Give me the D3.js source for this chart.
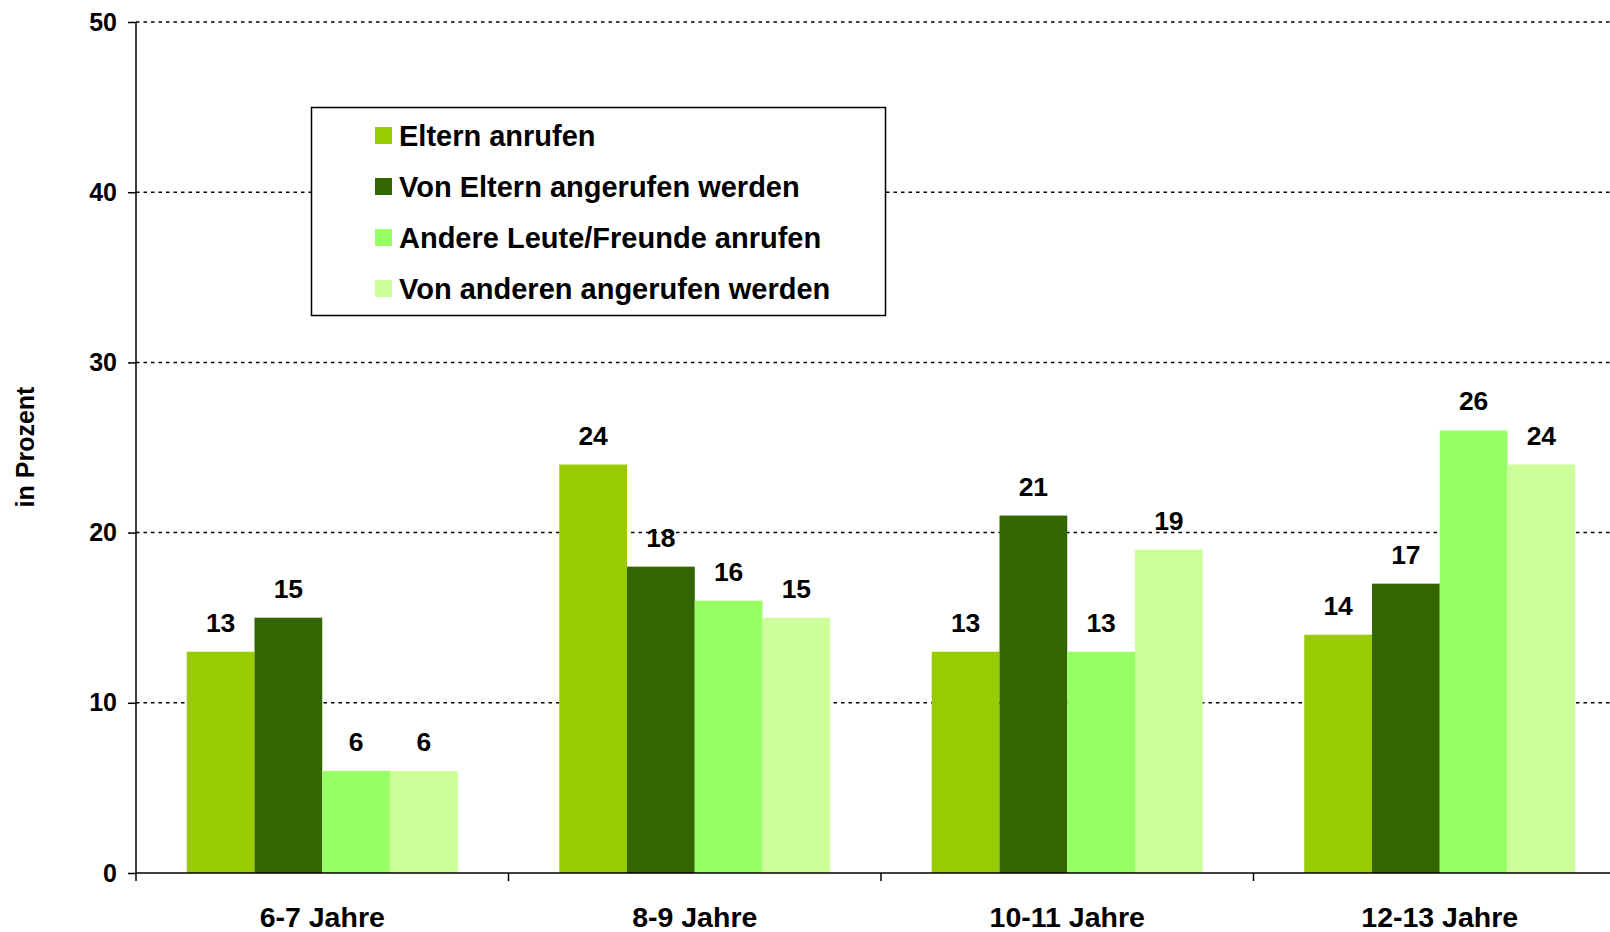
<!DOCTYPE html>
<html>
<head>
<meta charset="utf-8">
<script src="https://cdn.jsdelivr.net/npm/d3@7"></script>
<style>
  body { margin: 0; background: #fff; }
  svg { display: block; font-family: Arial, "Liberation Sans", sans-serif; font-weight: bold; }
</style>
</head>
<body>
<div id="chart"></div>
<script>
// data
const categories = ["6-7 Jahre", "8-9 Jahre", "10-11 Jahre", "12-13 Jahre"];
const seriesNames = ["Eltern anrufen", "Von Eltern angerufen werden", "Andere Leute/Freunde anrufen", "Von anderen angerufen werden"];
const seriesColors = ["#99CC00", "#336600", "#99FF66", "#CCFF99"];
const elternAnrufen = [13, 24, 13, 14];
const vonElternAngerufen = [15, 18, 21, 17];
const andereAnrufen = [6, 16, 13, 26];
const vonAnderenAngerufen = [6, 15, 19, 24];
const yTicks = [0, 10, 20, 30, 40, 50];

const seriesValues = [elternAnrufen, vonElternAngerufen, andereAnrufen, vonAnderenAngerufen];

const width = 1610, height = 932;
const margin = {top: 22, left: 136, bottom: 59};
const bandWidth = 372.5;

const svg = d3.select("#chart").append("svg")
    .attr("width", width)
    .attr("height", height);

let x = d3.scaleBand()
    .domain(categories)
    .range([margin.left, margin.left + bandWidth * categories.length]);

let xInner = d3.scaleBand()
    .domain(d3.range(seriesNames.length))
    .range([0, 271]);

let y = d3.scaleLinear()
    .domain([0, 50])
    .range([height - margin.bottom, margin.top]);

// dotted grid
svg.append("g").selectAll("line")
    .data(yTicks.filter(d => d > 0))
    .join("line")
    .attr("x1", margin.left)
    .attr("x2", width)
    .attr("y1", d => y(d))
    .attr("y2", d => y(d))
    .attr("stroke", "#000")
    .attr("stroke-width", 1.5)
    .attr("stroke-dasharray", "3.5,4");

// bars
let rows = [];
categories.forEach((c, i) => {
    seriesValues.forEach((vals, s) => {
        rows.push({cat: c, s: s, v: vals[i]});
    });
});

let groupOffset = (x.bandwidth() - 271) / 2;

svg.append("g").selectAll("rect")
    .data(rows)
    .join("rect")
    .attr("x", d => x(d.cat) + groupOffset + xInner(d.s))
    .attr("y", d => y(d.v))
    .attr("width", xInner.bandwidth())
    .attr("height", d => y(0) - y(d.v))
    .attr("fill", d => seriesColors[d.s]);

svg.append("g").selectAll("text")
    .data(rows)
    .join("text")
    .attr("x", d => x(d.cat) + groupOffset + xInner(d.s) + xInner.bandwidth() / 2)
    .attr("y", d => y(d.v) - 20)
    .attr("text-anchor", "middle")
    .attr("font-size", 26.5)
    .attr("fill", "#000")
    .text(d => d.v);

// y axis
let yAxis = svg.append("g")
    .attr("transform", `translate(${margin.left},0)`)
    .call(d3.axisLeft(y).tickValues(yTicks).tickSize(8).tickPadding(11));
yAxis.select(".domain").attr("stroke-width", 1.5).attr("d", `M-0,${y(50)}V${y(0) + 8}`);
yAxis.selectAll(".tick line").attr("stroke-width", 1.5);
yAxis.selectAll(".tick text")
    .attr("font-size", 25)
    .attr("font-family", "Arial, 'Liberation Sans', sans-serif")
    .attr("font-weight", "bold")
    .attr("fill", "#000");

// x axis
let xAxis = svg.append("g")
    .attr("transform", `translate(0,${y(0)})`);
xAxis.append("line")
    .attr("x1", margin.left)
    .attr("x2", width)
    .attr("stroke", "#000")
    .attr("stroke-width", 1.5);
xAxis.selectAll("line.sep")
    .data(categories.slice(1))
    .join("line")
    .attr("class", "sep")
    .attr("x1", d => x(d))
    .attr("x2", d => x(d))
    .attr("y1", 0)
    .attr("y2", 8)
    .attr("stroke", "#000")
    .attr("stroke-width", 1.5);
xAxis.selectAll("text")
    .data(categories)
    .join("text")
    .attr("x", d => x(d) + x.bandwidth() / 2)
    .attr("y", 54)
    .attr("text-anchor", "middle")
    .attr("font-size", 28.5)
    .attr("fill", "#000")
    .text(d => d);

// y title
svg.append("text")
    .attr("transform", "translate(34,447) rotate(-90)")
    .attr("text-anchor", "middle")
    .attr("font-size", 25)
    .text("in Prozent");

// legend
let legend = svg.append("g");
legend.append("rect")
    .attr("x", 311.5)
    .attr("y", 107.5)
    .attr("width", 574)
    .attr("height", 208)
    .attr("fill", "#fff")
    .attr("stroke", "#000")
    .attr("stroke-width", 1.5);

let legendRows = legend.selectAll("g")
    .data(seriesNames)
    .join("g")
    .attr("transform", (d, i) => `translate(375,${135.5 + i * 51})`);
legendRows.append("rect")
    .attr("x", 0)
    .attr("y", -8.5)
    .attr("width", 17)
    .attr("height", 17)
    .attr("fill", (d, i) => seriesColors[i]);
legendRows.append("text")
    .attr("x", 24)
    .attr("y", 10.5)
    .attr("font-size", 29)
    .text(d => d);
</script>
</body>
</html>
